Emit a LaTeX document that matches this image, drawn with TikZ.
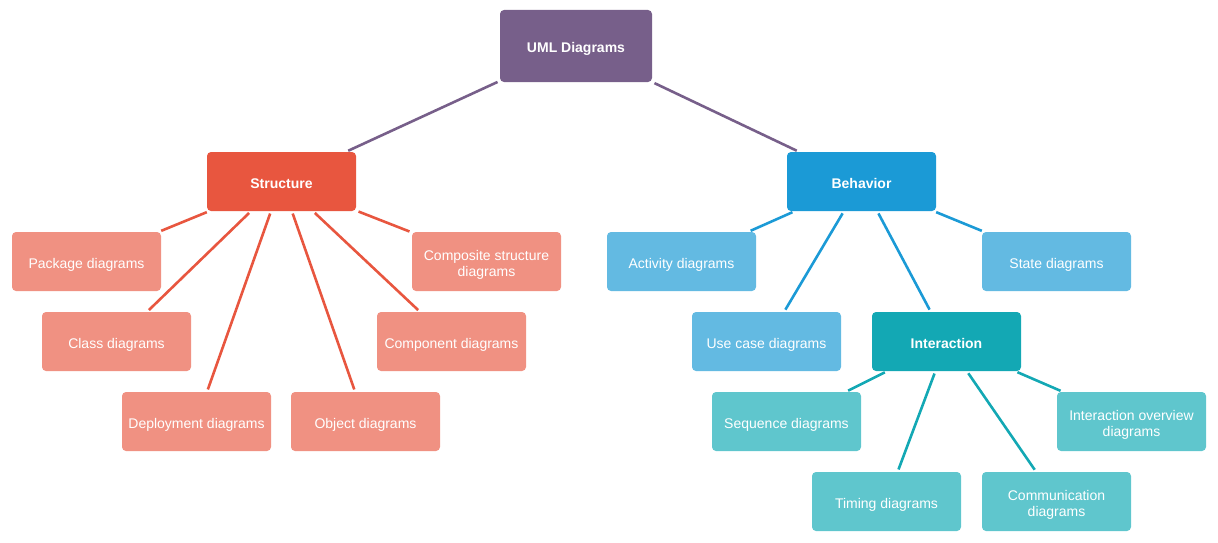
\documentclass[tikz,border=0pt]{standalone}
\usepackage{fontspec}
\setmainfont{Liberation Sans}
\definecolor{cpurple}{HTML}{775F8A}
\definecolor{cred}{HTML}{E8563F}
\definecolor{clred}{HTML}{F09182}
\definecolor{cblue}{HTML}{1B9AD6}
\definecolor{clblue}{HTML}{63BAE2}
\definecolor{cteal}{HTML}{13A8B4}
\definecolor{clteal}{HTML}{5FC6CD}
\newcommand{\lbl}[1]{\raisebox{-3.5pt}[\height][\depth]{\begin{tabular}{@{}c@{}}#1\end{tabular}}}
\begin{document}
\begin{tikzpicture}[x=1pt,y=-1pt,
  box/.style={rectangle,rounded corners=4pt,minimum width=149pt,minimum height=59pt,
    inner sep=2pt,text=white,font=\fontsize{14}{16}\selectfont},
  main/.style={box,font=\fontsize{14}{16}\selectfont\bfseries},
  link/.style={line width=2.6pt,shorten >=2.5pt,shorten <=2.5pt}]
\useasboundingbox (0,0) rectangle (1218,543);
\node[main,fill=cpurple,minimum width=152pt,minimum height=72pt] (uml) at (576,46) {\lbl{UML Diagrams}};
\node[main,fill=cred] (str) at (281.5,181.5) {\lbl{Structure}};
\node[main,fill=cblue] (beh) at (861.5,181.5) {\lbl{Behavior}};
\node[box,fill=clred] (pkg) at (86.5,261.5) {\lbl{Package diagrams}};
\node[box,fill=clred] (cmp) at (486.5,261.5) {\lbl{Composite structure\\diagrams}};
\node[box,fill=clred] (cls) at (116.5,341.5) {\lbl{Class diagrams}};
\node[box,fill=clred] (cpn) at (451.5,341.5) {\lbl{Component diagrams}};
\node[box,fill=clred] (dep) at (196.5,421.5) {\lbl{Deployment diagrams}};
\node[box,fill=clred] (obj) at (365.5,421.5) {\lbl{Object diagrams}};
\node[box,fill=clblue] (act) at (681.5,261.5) {\lbl{Activity diagrams}};
\node[box,fill=clblue] (sta) at (1056.5,261.5) {\lbl{State diagrams}};
\node[box,fill=clblue] (use) at (766.5,341.5) {\lbl{Use case diagrams}};
\node[main,fill=cteal] (int) at (946.5,341.5) {\lbl{Interaction}};
\node[box,fill=clteal] (seq) at (786.5,421.5) {\lbl{Sequence diagrams}};
\node[box,fill=clteal] (ovr) at (1131.5,421.5) {\lbl{Interaction overview\\diagrams}};
\node[box,fill=clteal] (tim) at (886.5,501.5) {\lbl{Timing diagrams}};
\node[box,fill=clteal] (com) at (1056.5,501.5) {\lbl{Communication\\diagrams}};
\draw[link,cpurple] (uml) -- (str);
\draw[link,cpurple] (uml) -- (beh);
\foreach \n in {pkg,cmp,cls,cpn,dep,obj} \draw[link,cred] (str) -- (\n);
\foreach \n in {act,sta,use,int} \draw[link,cblue] (beh) -- (\n);
\foreach \n in {seq,ovr,tim,com} \draw[link,cteal] (int) -- (\n);
\end{tikzpicture}
\end{document}
